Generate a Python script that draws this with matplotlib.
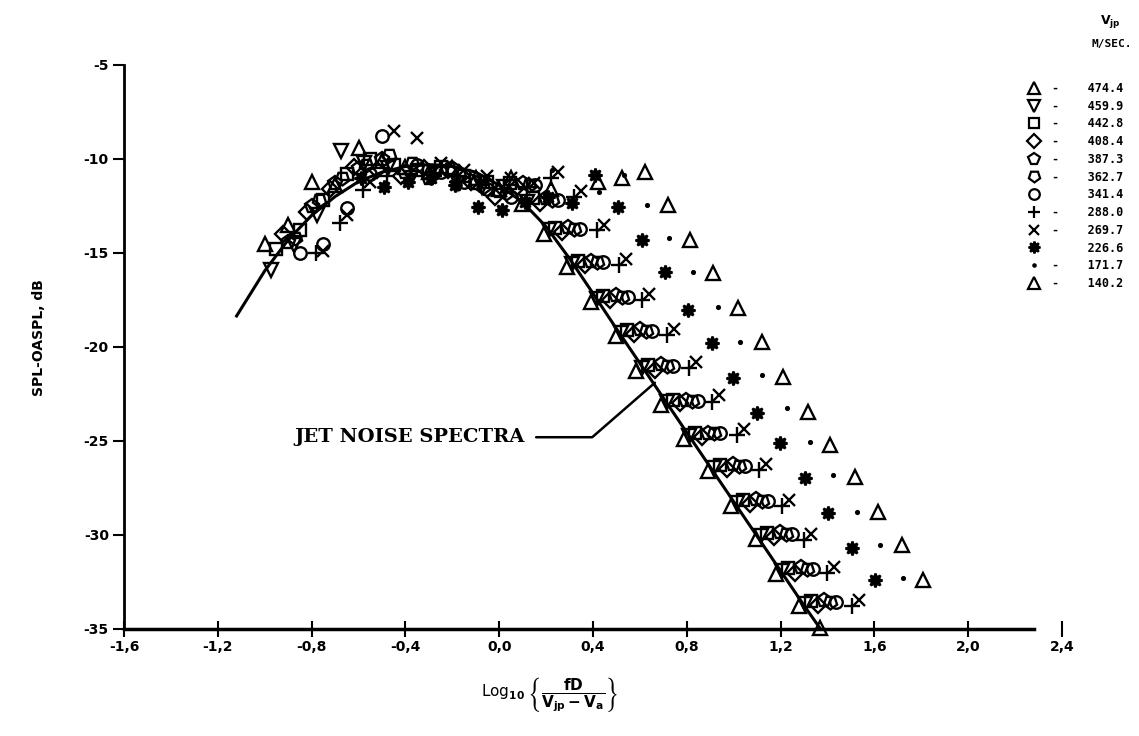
import matplotlib
matplotlib.use('Agg')
from matplotlib import pyplot as plt
from matplotlib.lines import Line2D

plt.rcParams['font.family'] = ['DejaVu Sans']
plt.rcParams['font.weight'] = 'bold'
plt.rcParams['mathtext.fontset'] = 'dejavusans'
plt.rcParams['mathtext.default'] = 'bf'

# jet noise spectrum (solid curve)
curve_x = [-1.12, -1.0, -0.9, -0.8, -0.7, -0.6, -0.5, -0.4, -0.3, -0.2, -0.1, 0.0, 0.1, 0.2,
           0.3, 0.4, 0.5, 0.6, 0.7, 0.8, 0.9, 1.0, 1.1, 1.2, 1.3, 1.37]
curve_y = [-18.35, -15.95, -14.3, -13.0, -12.0, -11.2, -10.7, -10.4, -10.3, -10.4, -10.7, -11.4, -12.3, -13.6,
           -15.3, -17.15, -19.03, -20.87, -22.71, -24.55, -26.39, -28.23, -30.07, -31.91, -33.75, -35.0]

# measured points, one pair of lists per jet velocity (m/sec)
v474_x = [-1.00, -0.90, -0.80, -0.70, -0.60, -0.50, -0.40, -0.30, -0.20, -0.10, 0.00, 0.095, 0.189, 0.287,
          0.393, 0.496, 0.585, 0.692, 0.786, 0.892, 0.990, 1.093, 1.182, 1.280, 1.37]
v474_y = [-14.5, -13.5, -11.2, -11.4, -9.4, -10.1, -10.4, -10.7, -10.5, -11.0, -11.6, -12.4, -14.0, -15.75,
          -17.6, -19.4, -21.3, -23.1, -24.9, -26.6, -28.45, -30.2, -32.1, -33.8, -34.95]

v460_x = [-0.975, -0.875, -0.775, -0.675, -0.575, -0.475, -0.375, -0.275, -0.175, -0.075, 0.022, 0.120,
          0.214, 0.312, 0.418, 0.521, 0.610, 0.717, 0.811, 0.917, 1.015, 1.118, 1.207, 1.305]
v460_y = [-15.9, -14.6, -13.0, -9.6, -10.2, -10.5, -11.0, -10.8, -11.3, -11.5, -11.5, -12.3,
          -13.8, -15.6, -17.45, -19.25, -21.1, -22.95, -24.75, -26.45, -28.3, -30.05, -31.9, -33.65]

v443_x = [-0.95, -0.85, -0.75, -0.65, -0.55, -0.45, -0.35, -0.25, -0.15, -0.05, 0.047, 0.145,
          0.239, 0.337, 0.443, 0.546, 0.635, 0.742, 0.836, 0.942, 1.040, 1.143, 1.232, 1.330]
v443_y = [-14.8, -13.8, -12.2, -10.8, -10.0, -10.3, -10.6, -10.4, -10.9, -11.2, -11.3, -12.1,
          -13.65, -15.4, -17.3, -19.1, -20.95, -22.8, -24.6, -26.3, -28.15, -29.9, -31.75, -33.5]

v408_x = [-0.92, -0.82, -0.72, -0.62, -0.52, -0.42, -0.32, -0.22, -0.12, -0.02, 0.077, 0.175,
          0.269, 0.367, 0.473, 0.576, 0.665, 0.772, 0.866, 0.972, 1.070, 1.173, 1.262, 1.360]
v408_y = [-14.0, -12.8, -11.6, -10.4, -10.6, -10.9, -10.5, -10.6, -11.2, -12.0, -11.5, -12.35,
          -13.9, -15.65, -17.5, -19.3, -21.2, -23.0, -24.8, -26.5, -28.35, -30.1, -32.0, -33.7]

v387_x = [-0.90, -0.80, -0.70, -0.60, -0.50, -0.40, -0.30, -0.20, -0.10, 0.00, 0.102, 0.200,
          0.294, 0.392, 0.498, 0.601, 0.690, 0.797, 0.891, 0.997, 1.095, 1.198, 1.287, 1.385]
v387_y = [-14.4, -12.5, -11.3, -10.5, -10.0, -10.7, -11.0, -10.5, -11.3, -11.7, -11.3, -12.1,
          -13.6, -15.4, -17.25, -19.05, -20.9, -22.8, -24.55, -26.25, -28.1, -29.85, -31.7, -33.45]

v363_x = [-0.87, -0.77, -0.67, -0.57, -0.47, -0.37, -0.27, -0.17, -0.07, 0.027, 0.127, 0.225,
          0.319, 0.417, 0.523, 0.626, 0.715, 0.822, 0.916, 1.022, 1.120, 1.223, 1.312, 1.410]
v363_y = [-14.2, -12.2, -11.0, -10.3, -9.8, -10.2, -10.6, -10.8, -11.5, -11.8, -11.4, -12.2,
          -13.7, -15.5, -17.35, -19.15, -21.0, -22.85, -24.6, -26.35, -28.2, -29.95, -31.8, -33.55]

v341_x = [-0.85, -0.75, -0.65, -0.55, -0.50, -0.35, -0.25, -0.15, -0.05, 0.052, 0.152, 0.250,
          0.344, 0.442, 0.548, 0.651, 0.740, 0.847, 0.941, 1.047, 1.145, 1.248, 1.337, 1.435]
v341_y = [-15.0, -14.5, -12.6, -10.8, -8.8, -10.3, -10.7, -11.2, -11.6, -12.0, -11.4, -12.2,
          -13.7, -15.5, -17.35, -19.15, -21.0, -22.85, -24.6, -26.35, -28.2, -29.95, -31.8, -33.55]

v288_x = [-0.78, -0.68, -0.58, -0.48, -0.38, -0.28, -0.18, -0.08, 0.02, 0.12, 0.221, 0.320,
          0.418, 0.512, 0.610, 0.717, 0.810, 0.908, 1.015, 1.109, 1.207, 1.301, 1.399, 1.505]
v288_y = [-15.0, -13.4, -11.65, -10.9, -10.8, -10.9, -11.2, -11.4, -11.6, -11.5, -11.0, -12.0,
          -13.8, -15.65, -17.5, -19.35, -21.1, -22.9, -24.7, -26.55, -28.45, -30.25, -32.0, -33.8]

v270_x = [-0.75, -0.65, -0.55, -0.45, -0.35, -0.25, -0.15, -0.05, 0.05, 0.15, 0.251, 0.349,
          0.447, 0.542, 0.640, 0.746, 0.840, 0.938, 1.044, 1.138, 1.236, 1.330, 1.428, 1.535]
v270_y = [-14.9, -13.0, -11.2, -8.5, -8.9, -10.2, -10.6, -10.9, -11.0, -11.3, -10.7, -11.7,
          -13.5, -15.3, -17.2, -19.05, -20.8, -22.55, -24.35, -26.2, -28.15, -29.95, -31.7, -33.45]

v227_x = [-0.59, -0.49, -0.39, -0.29, -0.19, -0.09, 0.01, 0.11, 0.21, 0.31, 0.409, 0.507,
          0.609, 0.707, 0.805, 0.908, 0.997, 1.100, 1.198, 1.305, 1.403, 1.505, 1.603]
v227_y = [-11.0, -11.5, -11.2, -11.0, -11.4, -12.55, -12.7, -12.3, -12.0, -12.35, -10.85, -12.55,
          -14.3, -16.0, -18.05, -19.8, -21.65, -23.5, -25.1, -26.95, -28.85, -30.7, -32.4]

v172_x = [0.225, 0.426, 0.533, 0.631, 0.725, 0.827, 0.933, 1.027, 1.121, 1.227, 1.325, 1.423,
          1.526, 1.624, 1.722]
v172_y = [-10.6, -11.75, -10.85, -12.45, -14.2, -16.0, -17.85, -19.75, -21.5, -23.25, -25.05, -26.8,
          -28.8, -30.55, -32.3]

v140_x = [0.05, 0.22, 0.42, 0.524, 0.622, 0.720, 0.814, 0.912, 1.018, 1.121, 1.210, 1.317,
          1.411, 1.517, 1.615, 1.718, 1.807]
v140_y = [-11.0, -11.6, -11.2, -11.0, -10.7, -12.45, -14.3, -16.05, -17.95, -19.75, -21.6, -23.45,
          -25.2, -26.9, -28.8, -30.55, -32.4]

velocity_labels = ['474.4', '459.9', '442.8', '408.4', '387.3', '362.7', '341.4',
                   '288.0', '269.7', '226.6', '171.7', '140.2']
series_x = [v474_x, v460_x, v443_x, v408_x, v387_x, v363_x, v341_x, v288_x, v270_x, v227_x, v172_x, v140_x]
series_y = [v474_y, v460_y, v443_y, v408_y, v387_y, v363_y, v341_y, v288_y, v270_y, v227_y, v172_y, v140_y]

# marker style per velocity: (marker, size, filled)
styles = [('^', 10, False), ('v', 10, False), ('s', 9, False), ('D', 8, False),
          ('p', 10, False), ((5, 0, 180), 10, False), ('o', 9, False), ('+', 11, False),
          ('x', 9, False), ((8, 1, 0), 10, True), ('.', 4, True), ('^', 10, False)]
dashes = ['-', '-', '-', '-', '-', '-', ' ', '-', '-', ' ', '-', '-']

fig = plt.figure(figsize=(11.39, 7.36), dpi=100)
ax = fig.add_axes([0.1089, 0.1454, 0.8235, 0.7663])

ax.plot(curve_x, curve_y, color='black', lw=2.2, zorder=1)

handles = []
for xs, ys, (m, ms, filled) in zip(series_x, series_y, styles):
    kw = dict(ls='none', marker=m, ms=ms, mec='black', mew=1.7,
              mfc='black' if filled else 'none')
    ax.plot(xs, ys, clip_on=False, zorder=2, **kw)
    handles.append(Line2D([], [], ls='none', marker=m, ms=ms * 0.85, mec='black', mew=1.6,
                          mfc='black' if filled else 'none'))

ax.annotate('JET NOISE SPECTRA', xy=(0.664, -21.9), xytext=(0.11, -24.8),
            ha='right', va='center', fontsize=14, family='DejaVu Serif', weight='bold',
            arrowprops=dict(arrowstyle='-', color='black', lw=1.8, shrinkA=6, shrinkB=0,
                            connectionstyle='angle,angleA=0,angleB=41,rad=0'))

ax.set_xlim(-1.6, 2.4)
ax.set_ylim(-35, -5)
xt = [-1.6, -1.2, -0.8, -0.4, 0.0, 0.4, 0.8, 1.2, 1.6, 2.0, 2.4]
ax.set_xticks(xt)
ax.set_xticklabels(['{:.1f}'.format(v).replace('.', ',') for v in xt])
yt = [-35, -30, -25, -20, -15, -10, -5]
ax.set_yticks(yt)
ax.set_yticklabels([str(v) for v in yt])
ax.tick_params(axis='x', direction='inout', length=12, width=1.5, labelsize=10, pad=2)
ax.tick_params(axis='y', direction='out', length=8, width=1.5, labelsize=10, pad=3)

for s in ['top', 'right']:
    ax.spines[s].set_visible(False)
ax.spines['left'].set_linewidth(2.0)
ax.spines['bottom'].set_linewidth(2.5)
ax.spines['bottom'].set_bounds(-1.6, 2.28)

ax.set_ylabel('SPL-OASPL, dB', fontsize=10, fontweight='bold')
ax.yaxis.set_label_coords(-0.083, 0.516)
ax.set_xlabel(r'Log$_{10}$ $\left\{\dfrac{fD}{V_{jp}-V_a}\right\}$', fontsize=11)
ax.xaxis.set_label_coords(0.454, -0.082)

fig.text(1110 / 1139, 1 - 22 / 736, r'V$_{jp}$', fontsize=9, ha='center', va='center')
fig.text(1112 / 1139, 1 - 44 / 736, 'M/SEC.', fontsize=8, ha='center', va='center',
         family='DejaVu Sans Mono')
labels = ['{}    {}'.format(d, v) for d, v in zip(dashes, velocity_labels)]
fig.legend(handles, labels, loc='upper left', bbox_to_anchor=(1027 / 1139, 1 - 82 / 736),
           frameon=False, prop={'family': 'DejaVu Sans Mono', 'size': 8.5},
           handlelength=1.2, handletextpad=0.9, labelspacing=0.40,
           borderaxespad=0, borderpad=0)

fig.savefig('out.png', dpi=100)
